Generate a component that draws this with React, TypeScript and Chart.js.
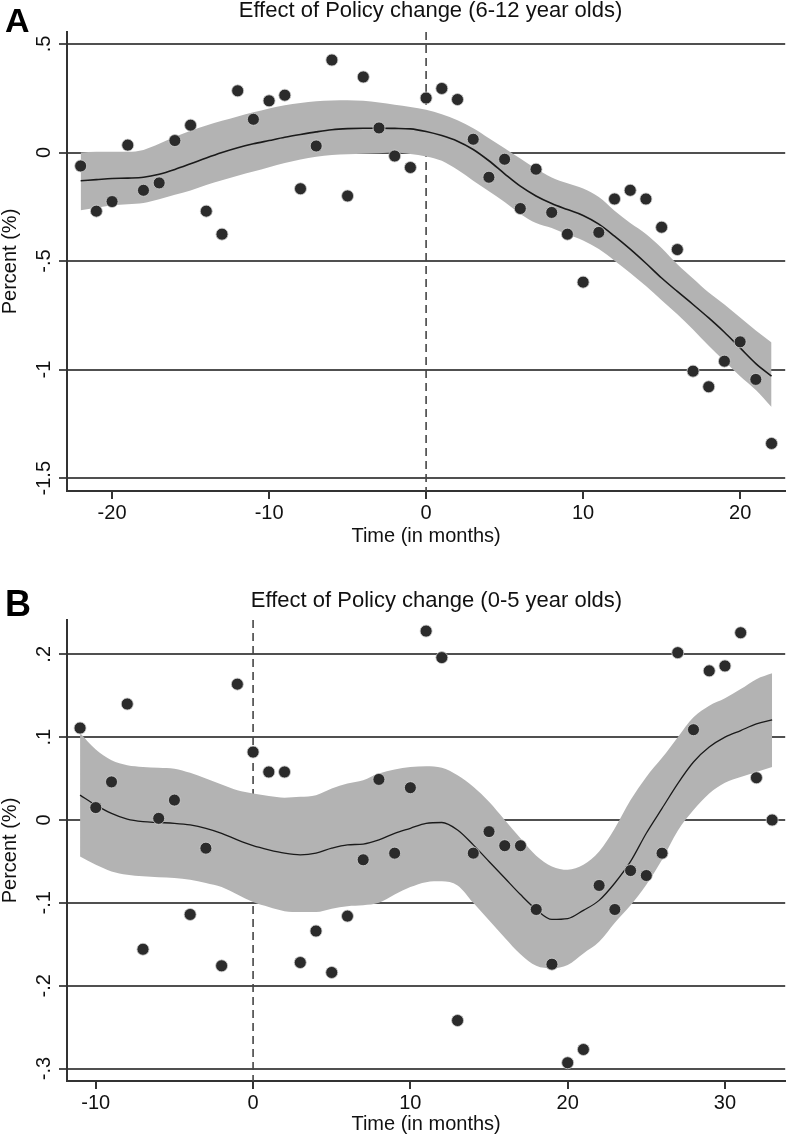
import React, { useEffect, useRef } from "react";
import { Chart, registerables } from "chart.js";

Chart.register(...registerables);

const FONT = "'Liberation Sans', Arial, Helvetica, sans-serif";

// ---------------- Panel A: 6-12 year olds ----------------
const monthsA = [-22, -21, -20, -19, -18, -17, -16, -15, -14, -13, -12, -11, -10, -9, -8, -7, -6, -5, -4, -3, -2, -1, 0, 1, 2, 3, 4, 5, 6, 7, 8, 9, 10, 11, 12, 13, 14, 15, 16, 17, 18, 19, 20, 21, 22];
const pointsA = [-0.062, -0.27, -0.226, 0.034, -0.174, -0.14, 0.055, 0.126, -0.27, -0.376, 0.284, 0.153, 0.238, 0.264, -0.167, 0.03, 0.426, -0.2, 0.348, 0.113, -0.016, -0.069, 0.251, 0.295, 0.244, 0.061, -0.114, -0.031, -0.258, -0.077, -0.276, -0.376, -0.597, -0.368, -0.214, -0.174, -0.214, -0.344, -0.447, -1.007, -1.079, -0.961, -0.872, -1.045, -1.34];
const fitA = [-0.13, -0.125, -0.12, -0.118, -0.114, -0.1, -0.078, -0.052, -0.025, 0.0, 0.022, 0.04, 0.055, 0.07, 0.083, 0.095, 0.105, 0.11, 0.112, 0.112, 0.111, 0.109, 0.097, 0.078, 0.052, 0.014, -0.038, -0.098, -0.155, -0.2, -0.235, -0.263, -0.29, -0.33, -0.385, -0.445, -0.51, -0.578, -0.64, -0.7, -0.762, -0.828, -0.9, -0.972, -1.03];
const upperA = [0.0, 0.003, 0.003, 0.003, 0.012, 0.04, 0.072, 0.1, 0.124, 0.146, 0.166, 0.185, 0.203, 0.218, 0.228, 0.236, 0.24, 0.241, 0.238, 0.23, 0.22, 0.21, 0.197, 0.176, 0.148, 0.112, 0.066, 0.02, -0.028, -0.075, -0.115, -0.142, -0.166, -0.205, -0.268, -0.325, -0.375, -0.44, -0.515, -0.58, -0.645, -0.7, -0.76, -0.82, -0.875];
const lowerA = [-0.266, -0.255, -0.243, -0.238, -0.232, -0.215, -0.195, -0.175, -0.15, -0.128, -0.107, -0.088, -0.068, -0.048, -0.032, -0.02, -0.012, -0.008, -0.006, -0.003, 0.0, -0.007, -0.018, -0.038, -0.08, -0.13, -0.178, -0.228, -0.283, -0.325, -0.348, -0.378, -0.405, -0.445, -0.498, -0.555, -0.615, -0.68, -0.745, -0.815, -0.89, -0.96, -1.03, -1.094, -1.172];
const yTicksA = [-1.5, -1, -0.5, 0, 0.5];
const yTickLabelsA = ["-1.5", "-1", "-.5", "0", ".5"];
const xTicksA = [-20, -10, 0, 10, 20];

// ---------------- Panel B: 0-5 year olds ----------------
const monthsB = [-11, -10, -9, -8, -7, -6, -5, -4, -3, -2, -1, 0, 1, 2, 3, 4, 5, 6, 7, 8, 9, 10, 11, 12, 13, 14, 15, 16, 17, 18, 19, 20, 21, 22, 23, 24, 25, 26, 27, 28, 29, 30, 31, 32, 33];
const pointsB = [0.111, 0.015, 0.046, 0.14, -0.156, 0.002, 0.024, -0.114, -0.034, -0.176, 0.164, 0.082, 0.058, 0.058, -0.172, -0.134, -0.184, -0.116, -0.048, 0.049, -0.04, 0.039, 0.228, 0.196, -0.242, -0.04, -0.014, -0.031, -0.031, -0.108, -0.174, -0.293, -0.277, -0.079, -0.108, -0.061, -0.067, -0.04, 0.202, 0.109, 0.18, 0.186, 0.226, 0.051, 0.0];
const fitB = [0.03, 0.018, 0.008, 0.001, -0.002, -0.003, -0.004, -0.006, -0.01, -0.016, -0.024, -0.031, -0.036, -0.04, -0.042, -0.04, -0.034, -0.03, -0.029, -0.024, -0.016, -0.01, -0.004, -0.003, -0.012, -0.03, -0.05, -0.07, -0.09, -0.108, -0.12, -0.119, -0.109, -0.097, -0.076, -0.05, -0.016, 0.014, 0.044, 0.07, 0.088, 0.1, 0.108, 0.116, 0.121];
const upperB = [0.105, 0.085, 0.072, 0.066, 0.064, 0.063, 0.062, 0.057, 0.05, 0.043, 0.036, 0.032, 0.029, 0.027, 0.028, 0.03, 0.038, 0.044, 0.048, 0.056, 0.061, 0.064, 0.065, 0.063, 0.054, 0.04, 0.022, 0.0, -0.022, -0.043, -0.056, -0.06, -0.054, -0.038, -0.01, 0.024, 0.052, 0.075, 0.1, 0.124, 0.138, 0.147, 0.158, 0.17, 0.177];
const lowerB = [-0.044, -0.054, -0.062, -0.066, -0.068, -0.069, -0.07, -0.072, -0.076, -0.081, -0.09, -0.099, -0.105, -0.11, -0.111, -0.111, -0.107, -0.104, -0.103, -0.1, -0.09, -0.081, -0.075, -0.074, -0.079, -0.1, -0.121, -0.142, -0.162, -0.176, -0.179, -0.175, -0.161, -0.147, -0.124, -0.103, -0.078, -0.048, -0.013, 0.012, 0.032, 0.045, 0.052, 0.058, 0.064];
const yTicksB = [-0.3, -0.2, -0.1, 0, 0.1, 0.2];
const yTickLabelsB = ["-.3", "-.2", "-.1", "0", ".1", ".2"];
const xTicksB = [-10, 0, 10, 20, 30];

const rotatedYTicks = {
  id: "rotatedYTicks",
  afterDraw(chart: any, _args: any, opts: any) {
    const scale = chart.scales.y;
    const ctx = chart.ctx;
    ctx.save();
    ctx.font = `20px ${FONT}`;
    ctx.fillStyle = "#111";
    ctx.textAlign = "center";
    ctx.textBaseline = "middle";
    (opts.values as number[]).forEach((v, i) => {
      const y = scale.getPixelForValue(v);
      ctx.save();
      ctx.translate(opts.x, y);
      ctx.rotate(-Math.PI / 2);
      ctx.fillText(opts.labels[i], 0, 0);
      ctx.restore();
    });
    ctx.restore();
  },
};

type PanelProps = {
  top: number;
  height: number;
  padTop: number;
  xAxisHeight: number;
  months: number[];
  points: number[];
  fit: number[];
  upper: number[];
  lower: number[];
  yMin: number;
  yMax: number;
  xMin: number;
  xMax: number;
  yTicks: number[];
  yTickLabels: string[];
  xTicks: number[];
  lineWidth: number;
};

function Panel(p: PanelProps) {
  const ref = useRef<HTMLCanvasElement | null>(null);
  useEffect(() => {
    if (!ref.current) return;
    const xy = (arr: number[]) => p.months.map((m, i) => ({ x: m, y: arr[i] }));
    const chart = new Chart(ref.current, {
      type: "line",
      data: {
        datasets: [
          {
            label: "observed",
            data: xy(p.points),
            showLine: false,
            pointRadius: 6,
            pointBackgroundColor: "#2b2b2b",
            pointBorderColor: "#cfcfcf",
            pointBorderWidth: 0.8,
            order: 0,
          },
          {
            label: "fit",
            data: xy(p.fit),
            borderColor: "#1a1a1a",
            borderWidth: p.lineWidth,
            pointRadius: 0,
            cubicInterpolationMode: "monotone",
            fill: false,
            order: 1,
          },
          {
            label: "upper",
            data: xy(p.upper),
            borderWidth: 0,
            borderColor: "rgba(0,0,0,0)",
            backgroundColor: "#b3b3b3",
            pointRadius: 0,
            cubicInterpolationMode: "monotone",
            fill: "+1",
            order: 2,
          },
          {
            label: "lower",
            data: xy(p.lower),
            borderWidth: 0,
            borderColor: "rgba(0,0,0,0)",
            pointRadius: 0,
            cubicInterpolationMode: "monotone",
            fill: false,
            order: 3,
          },
          {
            label: "policy",
            data: [
              { x: 0, y: p.yMax },
              { x: 0, y: p.yMin },
            ],
            borderColor: "#444",
            borderWidth: 1.6,
            borderDash: [8, 5],
            pointRadius: 0,
            fill: false,
            order: 4,
          },
        ] as any,
      },
      options: {
        animation: false,
        responsive: false,
        devicePixelRatio: 1,
        layout: { padding: { top: p.padTop, right: 3, left: 0, bottom: 0 } },
        plugins: {
          legend: { display: false },
          tooltip: { enabled: false },
          title: { display: false },
          rotatedYTicks: { values: p.yTicks, labels: p.yTickLabels, x: 44 },
        } as any,
        scales: {
          x: {
            type: "linear",
            min: p.xMin,
            max: p.xMax,
            afterBuildTicks: (s: any) => {
              s.ticks = p.xTicks.map((v) => ({ value: v }));
            },
            afterFit: (s: any) => {
              s.height = p.xAxisHeight;
            },
            ticks: {
              font: { family: FONT, size: 20 },
              color: "#111",
              padding: 2,
              maxRotation: 0,
              autoSkip: false,
              callback: (v: any) => String(v),
            },
            grid: { drawOnChartArea: false, drawTicks: true, tickLength: 8, color: "#333", lineWidth: 2 },
            border: { display: true, color: "#333", width: 2 },
            title: {
              display: true,
              text: "Time (in months)",
              font: { family: FONT, size: 20, lineHeight: 1.2 },
              color: "#111",
              padding: { top: 0, bottom: 1 },
            },
          },
          y: {
            type: "linear",
            min: p.yMin,
            max: p.yMax,
            afterBuildTicks: (s: any) => {
              s.ticks = p.yTicks.map((v) => ({ value: v }));
            },
            afterFit: (s: any) => {
              s.width = 67;
            },
            ticks: { display: false },
            grid: { color: "#505050", lineWidth: 2, drawTicks: true, tickLength: 8 },
            border: { display: true, color: "#333", width: 2 },
            title: {
              display: true,
              text: "Percent (%)",
              font: { family: FONT, size: 20, lineHeight: 1 },
              color: "#111",
              padding: { top: 0, bottom: 0 },
            },
          },
        } as any,
      },
      plugins: [rotatedYTicks as any],
    });
    return () => chart.destroy();
  }, []);
  return (
    <canvas
      ref={ref}
      width={792}
      height={p.height}
      style={{ position: "absolute", left: 0, top: p.top, width: 792, height: p.height }}
    />
  );
}

const letterStyle: React.CSSProperties = {
  position: "absolute",
  fontFamily: FONT,
  fontWeight: "bold",
  fontSize: 34,
  lineHeight: 1,
  color: "#000",
};

const titleStyle: React.CSSProperties = {
  position: "absolute",
  fontFamily: FONT,
  fontSize: 22,
  lineHeight: 1,
  color: "#111",
  whiteSpace: "nowrap",
  transform: "translateX(-50%)",
};

export default function App() {
  return (
    <div style={{ position: "absolute", left: 0, top: 0, width: 792, height: 1137, background: "#fff", overflow: "hidden" }}>
      <Panel
        top={0}
        height={549}
        padTop={32}
        xAxisHeight={58}
        months={monthsA}
        points={pointsA}
        fit={fitA}
        upper={upperA}
        lower={lowerA}
        yMin={-1.559}
        yMax={0.555}
        xMin={-22.87}
        xMax={22.87}
        yTicks={yTicksA}
        yTickLabels={yTickLabelsA}
        xTicks={xTicksA}
        lineWidth={1.6}
      />
      <Panel
        top={560}
        height={577}
        padTop={60}
        xAxisHeight={56}
        months={monthsB}
        points={pointsB}
        fit={fitB}
        upper={upperB}
        lower={lowerB}
        yMin={-0.315}
        yMax={0.2414}
        xMin={-11.83}
        xMax={33.83}
        yTicks={yTicksB}
        yTickLabels={yTickLabelsB}
        xTicks={xTicksB}
        lineWidth={1.3}
      />
      <div style={{ ...letterStyle, left: 5, top: 3 }}>A</div>
      <div style={{ ...letterStyle, left: 5, top: 586, fontSize: 36 }}>B</div>
      <div style={{ ...titleStyle, left: 430.5, top: -1 }}>Effect of Policy change (6-12 year olds)</div>
      <div style={{ ...titleStyle, left: 436.5, top: 589 }}>Effect of Policy change (0-5 year olds)</div>
    </div>
  );
}
